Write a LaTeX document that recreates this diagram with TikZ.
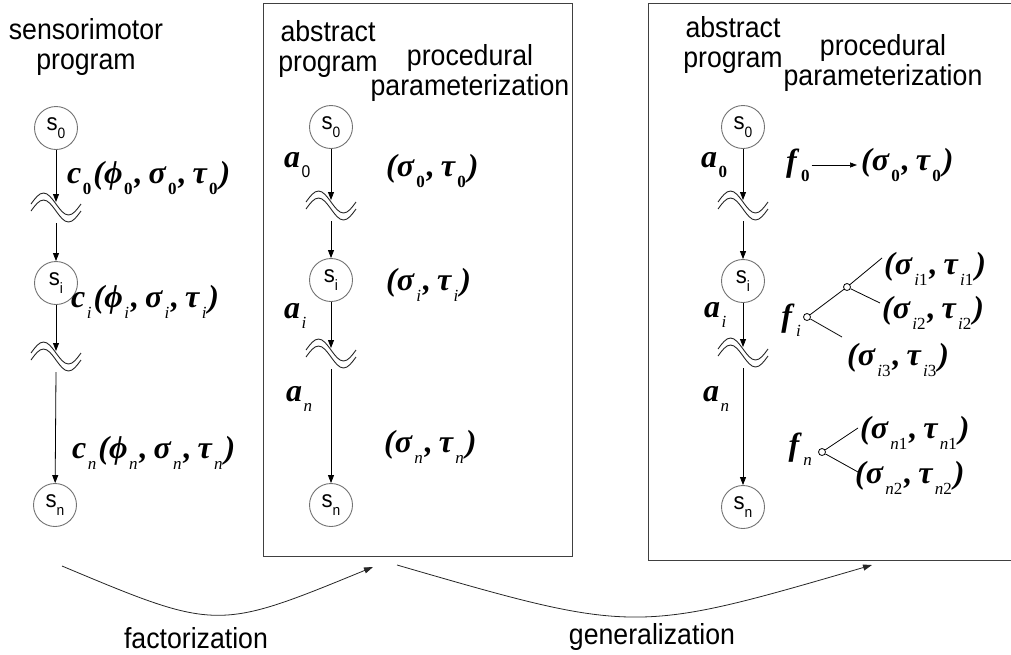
\documentclass[tikz,border=0pt]{standalone}
\usepackage{fontspec}
\setmainfont{Liberation Sans}
\newfontfamily\lab[FakeStretch=0.92]{Liberation Sans}
\newfontfamily\mf{Liberation Serif}
\usetikzlibrary{arrows.meta,calc}

% bold italic serif symbols and small lowered indices
\newcommand\bi[1]{{\mf\bfseries\itshape #1\/}}
\newcommand\lo[1]{\hspace{1.5pt}\raisebox{-0.32em}{\fontsize{17}{17}\selectfont #1}\hspace{2pt}}
\newcommand\subz{\lo{\mf\upshape\bfseries 0}}
\newcommand\subi{\lo{\mf\mdseries\itshape i}}
\newcommand\subn{\lo{\mf\mdseries\itshape n}}
\newcommand\subs{\lo{\lab\mdseries 0}}
\newcommand\subix[2]{\lo{\mf\mdseries\itshape #1\upshape #2}}
\newcommand\cma{\bi{,}\hspace{6pt}}
\newcommand\pair[2]{\bi{(σ}#1\cma\bi{τ}#2\bi{)}}
\newcommand\ctrl[1]{\bi{c}#1\bi{(ϕ}#1\cma\bi{σ}#1\cma\bi{τ}#1\bi{)}}
\newcommand\stlab[1]{s\raisebox{-0.35em}{\fontsize{15}{15}\selectfont #1}}

% double wavy break on a vertical line, centred at #1
\newcommand\wavebreak[1]{%
  \draw[brk,shift={#1}] (-25,-3) sin (-12.5,-14) cos (0,-3) sin (12.5,8) cos (25,-3);
  \draw[brk,shift={#1}] (-25,4) sin (-12.5,-7) cos (0,4) sin (12.5,15) cos (25,4);}

\begin{document}
\begin{tikzpicture}[x=1pt,y=-1pt,
  hdr/.style={font=\lab\fontsize{29}{30}\selectfont, align=center, inner sep=0},
  st/.style={circle, draw=black!55, line width=0.9pt, minimum size=43pt, inner sep=0,
             font=\lab\fontsize{24}{24}\selectfont},
  arr/.style={-{Triangle[length=8pt,width=6pt]}, line width=0.8pt},
  flowarc/.style={-{Triangle[length=9pt,width=6pt]}, line width=0.8pt, draw=black!85},
  ml/.style={inner sep=0, anchor=west, font=\fontsize{32}{32}\selectfont},
  brk/.style={line width=0.9pt, draw=black!85},
  knot/.style={circle, draw, line width=0.8pt, minimum size=7pt, inner sep=0},
  twig/.style={line width=0.8pt},
  box/.style={draw=black!75, line width=0.9pt, inner sep=0, anchor=north west}]

\useasboundingbox (0,0) rectangle (1011,654);

% ---------- sensorimotor program ----------
\node[hdr] (h0) at (86,47) {sensorimotor\\program};
\node[st] (L0) at (56,128) {\stlab{0}};
\node[st] (Li) at (56,283) {\stlab{i}};
\node[st] (Ln) at (55,505) {\stlab{n}};
\coordinate (Lw1) at (56,207);
\coordinate (Lw2) at (56,356);
\wavebreak{(Lw1)}
\wavebreak{(Lw2)}
\draw[arr] (L0) -- ($(Lw1)+(0,-5)$);
\draw[arr] ($(Lw1)+(0,16)$) -- (Li);
\draw[arr] (Li) -- ($(Lw2)+(0,-5)$);
\draw[arr] ($(Lw2)+(0,16)$) -- (Ln);
\node[ml] (c0) at (67,178) {\ctrl{\subz}};
\node[ml] (ci) at (71,302) {\ctrl{\subi}};
\node[ml] (cn) at (72,453) {\ctrl{\subn}};

% ---------- abstract program with parameterization ----------
\node[box, minimum width=309pt, minimum height=553pt] (B1) at (263,3) {};
\node[hdr] (h1a) at (328,49) {abstract\\program};
\node[hdr] (h1b) at (470,73) {procedural\\parameterization};
\node[st] (M0) at (331,127) {\stlab{0}};
\node[st] (Mi) at (331,280) {\stlab{i}};
\node[st] (Mn) at (331,505) {\stlab{n}};
\coordinate (Mw1) at (331,205);
\coordinate (Mw2) at (331,353);
\wavebreak{(Mw1)}
\wavebreak{(Mw2)}
\draw[arr] (M0) -- ($(Mw1)+(0,-5)$);
\draw[arr] ($(Mw1)+(0,16)$) -- (Mi);
\draw[arr] (Mi) -- ($(Mw2)+(0,-5)$);
\draw[arr] ($(Mw2)+(0,16)$) -- (Mn);
\node[ml] (a0) at (284,165) {\bi{a}\subs};
\node[ml] (ai) at (284,316) {\bi{a}\subi};
\node[ml] (an) at (286,399) {\bi{a}\subn};
\node[ml] (q0) at (386,171) {\pair{\subz}{\subz}};
\node[ml] (qi) at (386,285) {\pair{\subi}{\subi}};
\node[ml] (qn) at (384,447) {\pair{\subn}{\subn}};

% ---------- generalized parameterization ----------
\node[box, minimum width=368pt, minimum height=557pt] (B2) at (648,3) {};
\node[hdr] (h2a) at (733,45) {abstract\\program};
\node[hdr] (h2b) at (883,63) {procedural\\parameterization};
\node[st] (R0) at (743,127) {\stlab{0}};
\node[st] (Ri) at (743,281) {\stlab{i}};
\node[st] (Rn) at (743,507) {\stlab{n}};
\coordinate (Rw1) at (743,205);
\coordinate (Rw2) at (743,352);
\wavebreak{(Rw1)}
\wavebreak{(Rw2)}
\draw[arr] (R0) -- ($(Rw1)+(0,-5)$);
\draw[arr] ($(Rw1)+(0,16)$) -- (Ri);
\draw[arr] (Ri) -- ($(Rw2)+(0,-5)$);
\draw[arr] ($(Rw2)+(0,16)$) -- (Rn);
\node[ml] (b0) at (701,165) {\bi{a}\subz};
\node[ml] (bi) at (704,315) {\bi{a}\subi};
\node[ml] (bn) at (703,399) {\bi{a}\subn};

% f_0 maps to a single parameter pair
\node[ml] (f0) at (786,165) {\bi{f}\subz};
\node[ml] (p0) at (861,165) {\pair{\subz}{\subz}};
\draw[line width=0.7pt, -{Triangle[length=7pt,width=5pt]}] ($(f0.east)+(2,0)$) -- ($(p0.west)+(-4,0)$);

% f_i branches into three pairs
\node[knot] (ki) at (807,317) {};
\node[knot] (kj) at (847,287) {};
\node[ml, anchor=east] (fi) at (803,320) {\bi{f}\lo{\mf\mdseries\itshape i}\hspace{-2pt}};
\coordinate (ei1) at (882,258);
\coordinate (ei2) at (880,303);
\coordinate (ei3) at (842,337);
\draw[twig] (ki) -- (kj);
\draw[twig] (kj) -- (ei1);
\draw[twig] (kj) -- (ei2);
\draw[twig] (ki) -- (ei3);
\node[ml] (pi1) at (884,269) {\pair{\subix{i}{1}}{\subix{i}{1}}};
\node[ml] (pi2) at (882,313) {\pair{\subix{i}{2}}{\subix{i}{2}}};
\node[ml] (pi3) at (847,360) {\pair{\subix{i}{3}}{\subix{i}{3}}};

% f_n branches into two pairs
\node[knot] (kn) at (822,452) {};
\node[ml, anchor=east] (fn) at (814,449) {\bi{f}\lo{\mf\mdseries\itshape n}\hspace{-2pt}};
\coordinate (en1) at (858,428);
\coordinate (en2) at (858,472);
\draw[twig] (kn) -- (en1);
\draw[twig] (kn) -- (en2);
\node[ml] (pn1) at (860,433) {\pair{\subix{n}{1}}{\subix{n}{1}}};
\node[ml] (pn2) at (855,478) {\pair{\subix{n}{2}}{\subix{n}{2}}};

% ---------- transitions ----------
\coordinate (fa) at (62,566);
\coordinate (fb) at (373,567);
\draw[flowarc] (fa) .. controls (217,631) .. (fb);
\node[hdr] (fl) at (196,638) {factorization};
\coordinate (ga) at (397,565);
\coordinate (gb) at (872,565);
\draw[flowarc] (ga) .. controls (635,634) .. (gb);
\node[hdr] (gl) at (652,637) {generalization};
\end{tikzpicture}
\end{document}
